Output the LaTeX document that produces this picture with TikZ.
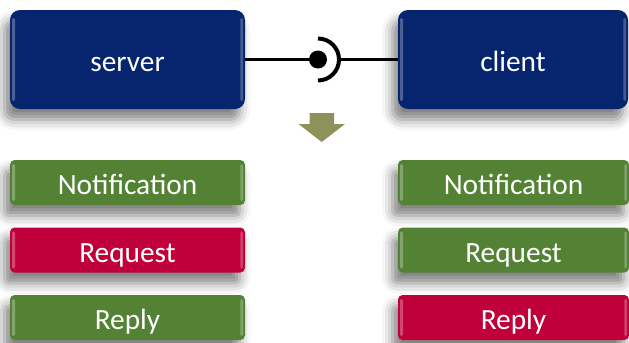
\documentclass[tikz,border=0pt]{standalone}
\usepackage{fontspec}
\setmainfont{Carlito}
\usetikzlibrary{shadows.blur}
\definecolor{boxblue}{RGB}{6,37,110}
\definecolor{boxgreen}{RGB}{84,130,53}
\definecolor{boxred}{RGB}{192,0,58}
\definecolor{arrowolive}{RGB}{141,145,90}
\tikzset{
  gloss/.style={path picture={
    \fill[white, opacity=0.28, rounded corners=1pt]
      ([xshift=1.5pt,yshift=-#1]path picture bounding box.north west) rectangle
      ([xshift=3.8pt,yshift=#1]path picture bounding box.south west);
    \fill[white, opacity=0.25, rounded corners=1pt]
      ([xshift=-3.5pt,yshift=-#1]path picture bounding box.north east) rectangle
      ([xshift=-1.5pt,yshift=#1]path picture bounding box.south east);}},
  base/.style={text=white, font=\fontsize{22}{26}\selectfont, inner sep=0pt,
    text height=22pt, text depth=4pt,
    blur shadow={shadow xshift=-4pt, shadow yshift=-8pt, shadow blur radius=8pt, shadow opacity=50}},
  bigbox/.style={base, fill=boxblue, rounded corners=7.5pt, minimum width=176.25pt, minimum height=74.25pt, gloss=6pt},
  smallbox/.style={base, rounded corners=3.5pt, minimum width=176.25pt, minimum height=33.75pt, gloss=3pt},
  gbox/.style={smallbox, fill=boxgreen},
  rbox/.style={smallbox, fill=boxred},
  wire/.style={line width=2.4pt, black},
}
\begin{document}
\begin{tikzpicture}[x=0.75pt,y=-0.75pt]
\useasboundingbox (0,0) rectangle (629,343);
\node[bigbox] (server) at (127.5,59.5) {server};
\node[bigbox, minimum width=172.5pt] (client) at (513,59.5) {client};
% interface: ball and socket
\node[circle, fill=black, inner sep=0pt, minimum size=13.5pt] (ball) at (318,59.5) {};
\coordinate (sockr) at (339,59.5);
\draw[wire] (server.east) -- (ball);
\draw[line width=3pt] ([yshift=15.75pt]ball.center) arc[start angle=90, end angle=-90, radius=15.75pt];
\draw[wire] (sockr) -- (client.west);
% down arrow
\fill[arrowolive] (309.5,113) -- (334,113) -- (334,124) -- (345,124) -- (321.75,142) -- (298.5,124) -- (309.5,124) -- cycle;
% left column (server)
\node[gbox] (sn) at (127.5,182.5) {Notification};
\node[rbox] (sq) at (127.5,250) {Request};
\node[gbox] (sr) at (127.5,317.5) {Reply};
% right column (client)
\node[gbox, minimum width=173.25pt] (cn) at (513.5,182.5) {Notification};
\node[gbox, minimum width=173.25pt] (cq) at (513.5,250) {Request};
\node[rbox, minimum width=173.25pt] (cr) at (513.5,317.5) {Reply};
\end{tikzpicture}
\end{document}
